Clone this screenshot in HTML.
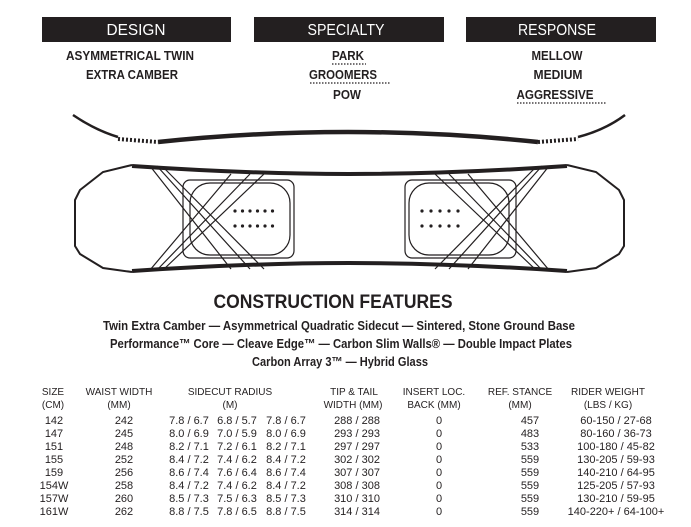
<!DOCTYPE html>
<html><head><meta charset="utf-8"><style>
html,body{margin:0;padding:0;background:#fff;}
svg{display:block;}
text{font-family:"Liberation Sans Narrow","Liberation Sans",sans-serif;fill:#231f20;}
</style></head><body>
<svg width="691" height="527" viewBox="0 0 691 527" xmlns="http://www.w3.org/2000/svg">
<rect x="42" y="17" width="189" height="25" fill="#231f20"/>
<rect x="254" y="17" width="190" height="25" fill="#231f20"/>
<rect x="466" y="17" width="190" height="25" fill="#231f20"/>
<g font-size="16" text-anchor="middle">
<text x="136" y="35" style="fill:#fff" textLength="59" lengthAdjust="spacingAndGlyphs">DESIGN</text>
<text x="346" y="35" style="fill:#fff" textLength="77" lengthAdjust="spacingAndGlyphs">SPECIALTY</text>
<text x="557" y="35" style="fill:#fff" textLength="78" lengthAdjust="spacingAndGlyphs">RESPONSE</text>
</g>
<g font-size="13" text-anchor="middle" font-weight="bold">
<text x="130" y="60" textLength="128" lengthAdjust="spacingAndGlyphs">ASYMMETRICAL TWIN</text>
<text x="132" y="79" textLength="92" lengthAdjust="spacingAndGlyphs">EXTRA CAMBER</text>
<text x="348" y="60" textLength="32" lengthAdjust="spacingAndGlyphs">PARK</text>
<text x="343" y="79" textLength="68" lengthAdjust="spacingAndGlyphs">GROOMERS</text>
<text x="347" y="99" textLength="28" lengthAdjust="spacingAndGlyphs">POW</text>
<text x="557" y="60" textLength="51" lengthAdjust="spacingAndGlyphs">MELLOW</text>
<text x="558" y="79" textLength="49" lengthAdjust="spacingAndGlyphs">MEDIUM</text>
<text x="555" y="99" textLength="77" lengthAdjust="spacingAndGlyphs">AGGRESSIVE</text>
</g>
<g stroke="#231f20" stroke-width="1.3" stroke-dasharray="1.5,1.5">
<line x1="332" y1="64" x2="366" y2="64"/>
<line x1="310" y1="83" x2="390" y2="83"/>
<line x1="517" y1="103" x2="606" y2="103"/>
</g>
<!-- side profile -->
<g fill="none" stroke="#231f20">
<path d="M73 115 Q95 130 118 137" stroke-width="2.5"/>
<path d="M118 139 L158 142" stroke-width="4" stroke-dasharray="2,2"/>
<path d="M158 142 Q348 122 538 142" stroke-width="4.5"/>
<path d="M538 142 L578 139" stroke-width="4" stroke-dasharray="2,2"/>
<path d="M578 137 Q605 130 625 115" stroke-width="2.5"/>
</g>
<!-- top view -->
<g fill="none" stroke="#231f20">
<path d="M132 165 L103 172 L80 190 L75 200 L75 246 L80 254 L103 268 L132 272" stroke-width="2"/>
<path d="M567 165 L596 172 L619 190 L624 200 L624 246 L619 254 L596 268 L567 272" stroke-width="2"/>
<path d="M132 166 Q250 174 349 174 Q450 174 567 166" stroke-width="4"/>
<path d="M132 271 Q250 263 349 263 Q450 263 567 271" stroke-width="4"/>
<g stroke-width="1.2">
<rect x="183" y="180" width="111" height="78" rx="7"/>
<rect x="190" y="183" width="100" height="72" rx="20"/>
<rect x="405" y="180" width="111" height="78" rx="7"/>
<rect x="409" y="183" width="100" height="72" rx="20"/>
<line x1="150" y1="166" x2="231" y2="269"/><line x1="157" y1="166" x2="250" y2="269"/><line x1="163" y1="167" x2="264" y2="269"/>
<line x1="231" y1="174" x2="150" y2="270"/><line x1="250" y1="174" x2="157" y2="270"/><line x1="264" y1="174" x2="163" y2="270"/>
<line x1="549" y1="166" x2="468" y2="269"/><line x1="542" y1="166" x2="449" y2="269"/><line x1="536" y1="167" x2="435" y2="269"/>
<line x1="468" y1="174" x2="549" y2="270"/><line x1="449" y1="174" x2="542" y2="270"/><line x1="435" y1="174" x2="536" y2="270"/>
</g>
</g>
<g fill="#231f20">
<circle cx="235" cy="211" r="1.6"/><circle cx="242.5" cy="211" r="1.6"/><circle cx="250" cy="211" r="1.6"/><circle cx="257.5" cy="211" r="1.6"/><circle cx="265" cy="211" r="1.6"/><circle cx="272.5" cy="211" r="1.6"/>
<circle cx="235" cy="226" r="1.6"/><circle cx="242.5" cy="226" r="1.6"/><circle cx="250" cy="226" r="1.6"/><circle cx="257.5" cy="226" r="1.6"/><circle cx="265" cy="226" r="1.6"/><circle cx="272.5" cy="226" r="1.6"/>
<circle cx="422" cy="211" r="1.6"/><circle cx="431" cy="211" r="1.6"/><circle cx="440" cy="211" r="1.6"/><circle cx="449" cy="211" r="1.6"/><circle cx="458" cy="211" r="1.6"/>
<circle cx="422" cy="226" r="1.6"/><circle cx="431" cy="226" r="1.6"/><circle cx="440" cy="226" r="1.6"/><circle cx="449" cy="226" r="1.6"/><circle cx="458" cy="226" r="1.6"/>
</g>
<g text-anchor="middle" font-weight="bold">
<text x="333" y="308" font-size="19" textLength="239" lengthAdjust="spacingAndGlyphs">CONSTRUCTION FEATURES</text>
<text x="339" y="330" font-size="13" textLength="472" lengthAdjust="spacingAndGlyphs">Twin Extra Camber — Asymmetrical Quadratic Sidecut — Sintered, Stone Ground Base</text>
<text x="341" y="348" font-size="13" textLength="462" lengthAdjust="spacingAndGlyphs">Performance™ Core — Cleave Edge™ — Carbon Slim Walls® — Double Impact Plates</text>
<text x="340" y="366" font-size="13" textLength="176" lengthAdjust="spacingAndGlyphs">Carbon Array 3™ — Hybrid Glass</text>
</g>
<g font-size="10" text-anchor="middle">
<text x="53" y="395">SIZE</text><text x="53" y="408">(CM)</text>
<text x="119" y="395">WAIST WIDTH</text><text x="119" y="408">(MM)</text>
<text x="230" y="395">SIDECUT RADIUS</text><text x="230" y="408">(M)</text>
<text x="354" y="395">TIP &amp; TAIL</text><text x="353" y="408">WIDTH (MM)</text>
<text x="434" y="395">INSERT LOC.</text><text x="434" y="408">BACK (MM)</text>
<text x="520" y="395">REF. STANCE</text><text x="520" y="408">(MM)</text>
<text x="608" y="395">RIDER WEIGHT</text><text x="608" y="408">(LBS / KG)</text>
</g>
<g font-size="11" text-anchor="middle">
<g transform="translate(0,424)"><text x="54">142</text><text x="124">242</text><text x="189">7.8 / 6.7</text><text x="237">6.8 / 5.7</text><text x="286">7.8 / 6.7</text><text x="357">288 / 288</text><text x="439">0</text><text x="530">457</text><text x="616">60-150 / 27-68</text></g>
<g transform="translate(0,437)"><text x="54">147</text><text x="124">245</text><text x="189">8.0 / 6.9</text><text x="237">7.0 / 5.9</text><text x="286">8.0 / 6.9</text><text x="357">293 / 293</text><text x="439">0</text><text x="530">483</text><text x="616">80-160 / 36-73</text></g>
<g transform="translate(0,450)"><text x="54">151</text><text x="124">248</text><text x="189">8.2 / 7.1</text><text x="237">7.2 / 6.1</text><text x="286">8.2 / 7.1</text><text x="357">297 / 297</text><text x="439">0</text><text x="530">533</text><text x="616">100-180 / 45-82</text></g>
<g transform="translate(0,463)"><text x="54">155</text><text x="124">252</text><text x="189">8.4 / 7.2</text><text x="237">7.4 / 6.2</text><text x="286">8.4 / 7.2</text><text x="357">302 / 302</text><text x="439">0</text><text x="530">559</text><text x="616">130-205 / 59-93</text></g>
<g transform="translate(0,476)"><text x="54">159</text><text x="124">256</text><text x="189">8.6 / 7.4</text><text x="237">7.6 / 6.4</text><text x="286">8.6 / 7.4</text><text x="357">307 / 307</text><text x="439">0</text><text x="530">559</text><text x="616">140-210 / 64-95</text></g>
<g transform="translate(0,489)"><text x="54">154W</text><text x="124">258</text><text x="189">8.4 / 7.2</text><text x="237">7.4 / 6.2</text><text x="286">8.4 / 7.2</text><text x="357">308 / 308</text><text x="439">0</text><text x="530">559</text><text x="616">125-205 / 57-93</text></g>
<g transform="translate(0,502)"><text x="54">157W</text><text x="124">260</text><text x="189">8.5 / 7.3</text><text x="237">7.5 / 6.3</text><text x="286">8.5 / 7.3</text><text x="357">310 / 310</text><text x="439">0</text><text x="530">559</text><text x="616">130-210 / 59-95</text></g>
<g transform="translate(0,515)"><text x="54">161W</text><text x="124">262</text><text x="189">8.8 / 7.5</text><text x="237">7.8 / 6.5</text><text x="286">8.8 / 7.5</text><text x="357">314 / 314</text><text x="439">0</text><text x="530">559</text><text x="616">140-220+ / 64-100+</text></g>
</g>
</svg>
</body></html>
